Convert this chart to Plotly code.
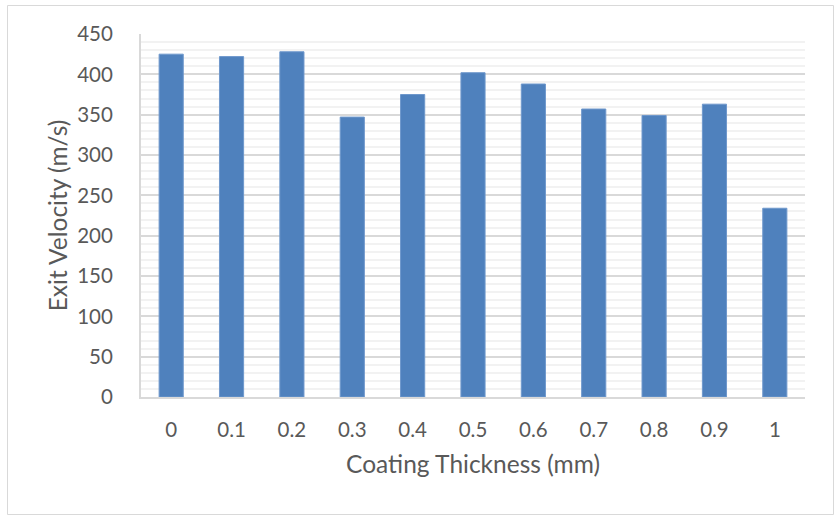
import plotly.graph_objects as go

# Coating thickness (mm) and measured exit velocity (m/s)
thickness = ["0", "0.1", "0.2", "0.3", "0.4", "0.5", "0.6", "0.7", "0.8", "0.9", "1"]
exit_velocity = [425, 422, 428, 347, 375, 402, 388, 357, 349, 363, 234]

W, H = 837, 516
L, R, T, B = 141, 32, 34, 119
pw, ph = W - L - R, H - T - B

FONT = "Lato, 'Open Sans', sans-serif"
TXT = "#595959"

fig = go.Figure(
    go.Bar(
        x=thickness,
        y=exit_velocity,
        marker=dict(color="#4F81BD", line=dict(color="#6F98CC", width=1)),
        width=0.4,
    )
)

# outer chart frame, expressed in paper coordinates
def px_x(v):
    return (v - L) / pw

def px_y(v):
    return 1 - (v - T) / ph

fig.add_shape(
    type="rect", xref="paper", yref="paper",
    x0=px_x(7.5), x1=px_x(833.5), y0=px_y(514.5), y1=px_y(5.5),
    line=dict(color="#d9d9d9", width=1), fillcolor="rgba(0,0,0,0)", layer="below",
)

fig.update_layout(
    width=W, height=H,
    margin=dict(l=L, r=R, t=T, b=B),
    paper_bgcolor="white", plot_bgcolor="white",
    showlegend=False,
    font=dict(family=FONT, color=TXT, size=20),
    bargap=0.6,
    xaxis=dict(
        type="category",
        showline=True, linecolor="#d9d9d9", linewidth=2,
        showgrid=False, ticks="", ticklabelstandoff=13,
        tickfont=dict(size=20.5, color=TXT),
        title=dict(text="Coating Thickness (mm)", font=dict(size=24.5, color=TXT), standoff=16),
    ),
    yaxis=dict(
        range=[0, 450], dtick=50, tick0=0,
        showline=True, linecolor="#d9d9d9", linewidth=2,
        showgrid=True, gridcolor="#d9d9d9", gridwidth=2,
        zeroline=False, ticks="", ticklabelstandoff=22,
        tickfont=dict(size=20.5, color=TXT),
        minor=dict(dtick=10, showgrid=True, gridcolor="#f2f2f2", gridwidth=2),
        title=dict(text="Exit Velocity (m/s)", font=dict(size=24.5, color=TXT), standoff=3),
    ),
)

fig.write_html("out.html")
